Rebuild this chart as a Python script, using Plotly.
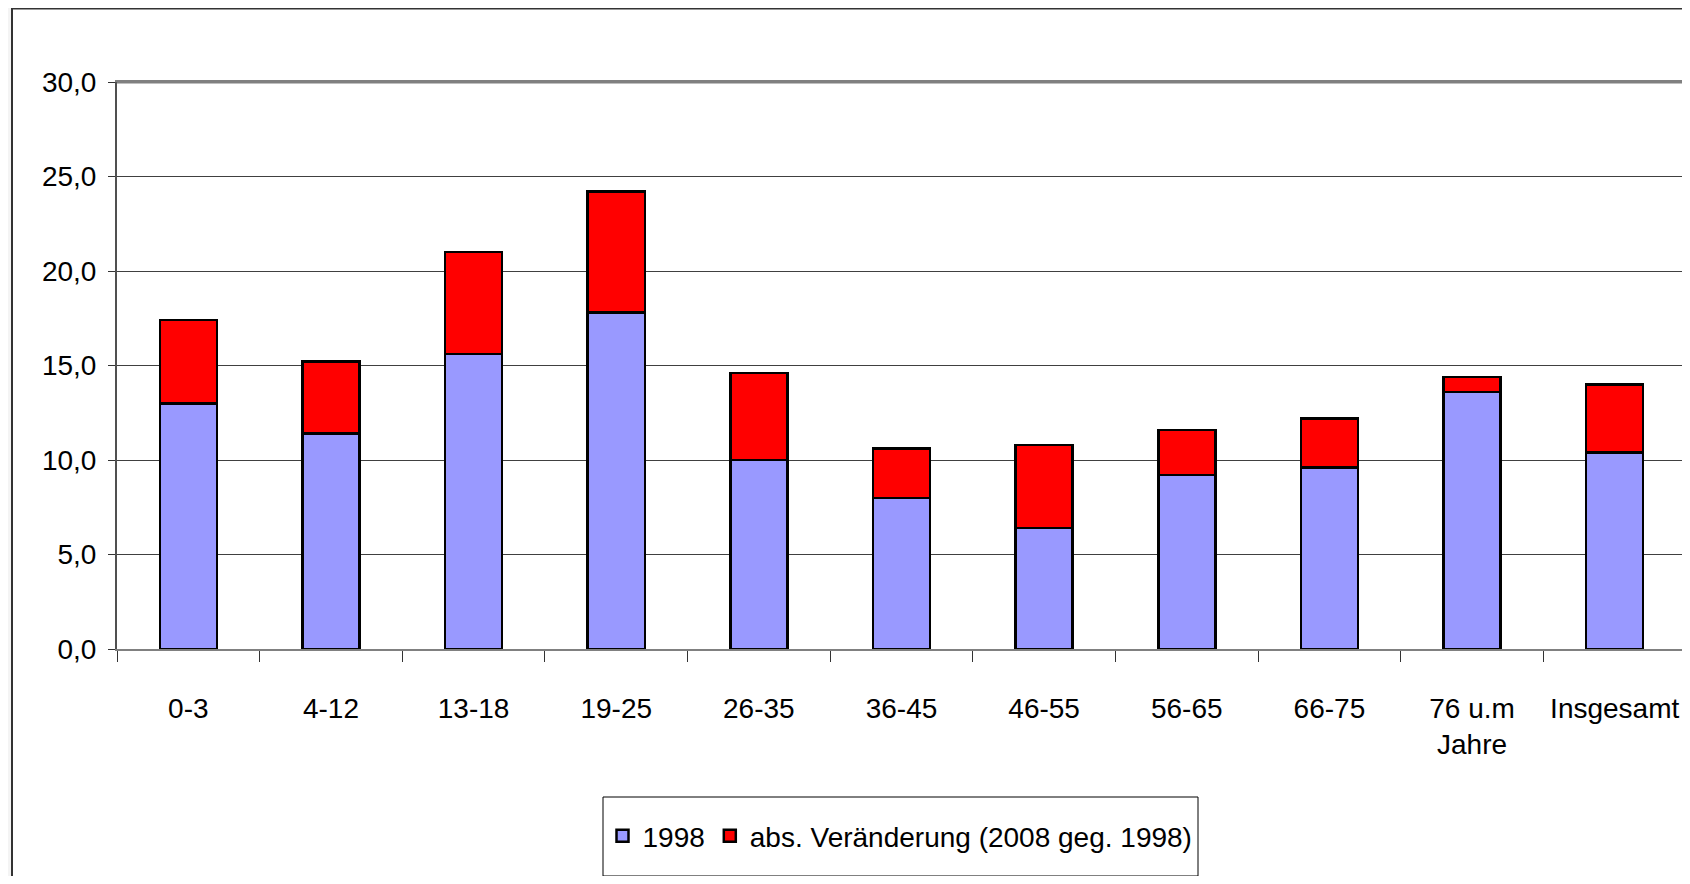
import plotly.graph_objects as go

categories = ["0-3", "4-12", "13-18", "19-25", "26-35", "36-45", "46-55",
              "56-65", "66-75", "76 u.m<br>Jahre", "Insgesamt"]
values_1998 = [13.0, 11.4, 15.6, 17.8, 10.0, 8.0, 6.4, 9.2, 9.6, 13.6, 10.4]
values_change = [4.4, 3.8, 5.4, 6.4, 4.6, 2.6, 4.4, 2.4, 2.6, 0.8, 3.6]
series_names = ["1998", "abs. Veränderung (2008 geg. 1998)"]
y_ticks = [0, 5, 10, 15, 20, 25, 30]

FONT = "Liberation Sans, Arial, sans-serif"
FS = 28

fig = go.Figure()
fig.add_trace(go.Bar(x=categories, y=values_1998, name=series_names[0],
                     marker=dict(color="#9999FF", line=dict(color="black", width=2.5)),
                     width=0.4))
fig.add_trace(go.Bar(x=categories, y=values_change, name=series_names[1],
                     marker=dict(color="#FF0000", line=dict(color="black", width=2.5)),
                     width=0.4))

# page has an 8px body margin: figure pixel = page pixel - 8
OFF = 8
W, H = 1682, 868
L, R, T, B = 109, 4, 74, 227
pw = W - L - R
ph = H - T - B

def px_x(x):
    return (x - OFF - L) / pw

def px_y(y):
    return (H - B - (y - OFF)) / ph

fig.update_layout(
    width=W, height=H,
    barmode="stack",
    separators=",.",
    paper_bgcolor="#f4f4f4",
    plot_bgcolor="white",
    margin=dict(l=L, r=R, t=T, b=B, pad=0, autoexpand=False),
    font=dict(family=FONT, size=FS, color="black"),
    showlegend=True,
    legend=dict(orientation="h", x=px_x(900), xanchor="center",
                y=px_y(836), yanchor="middle", traceorder="normal",
                bgcolor="rgba(0,0,0,0)", borderwidth=0,
                font=dict(family=FONT, size=FS, color="black"),
                itemwidth=30, tracegroupgap=0),
    xaxis=dict(showgrid=False, showline=True, linecolor="#808080", linewidth=2,
               mirror=True, ticks="outside", tickson="boundaries", ticklen=11,
               tickcolor="#333333", tickfont=dict(family=FONT, size=FS, color="black"),
               tickangle=0, automargin=False, ticklabelstandoff=33,
               range=[-0.5, len(categories) - 0.5], fixedrange=True),
    yaxis=dict(range=[0, 30], tickvals=y_ticks, tickformat=".1f",
               showgrid=True, gridcolor="#404040", gridwidth=1,
               showline=True, linecolor="#505050", linewidth=2,
               ticks="outside", ticklen=7, tickcolor="#333333",
               ticklabelstandoff=6, automargin=False,
               tickfont=dict(family=FONT, size=FS, color="black"),
               zeroline=False, fixedrange=True),
    shapes=[
        dict(type="rect", xref="paper", yref="paper",
             x0=px_x(12), x1=1.1, y0=-0.6, y1=px_y(8.5),
             fillcolor="white", line=dict(color="#333333", width=2), layer="below"),
        dict(type="rect", xref="paper", yref="paper",
             x0=px_x(603), x1=px_x(1198), y0=px_y(876), y1=px_y(797),
             fillcolor="white", line=dict(color="black", width=1), layer="below"),
        dict(type="line", xref="paper", yref="paper", x0=1, x1=1, y0=0, y1=1,
             line=dict(color="#808080", width=3), layer="above"),
        dict(type="line", xref="paper", yref="paper", x0=0, x1=1, y0=1, y1=1,
             line=dict(color="#808080", width=3), layer="above"),
    ],
)

fig.write_html("out.html")
